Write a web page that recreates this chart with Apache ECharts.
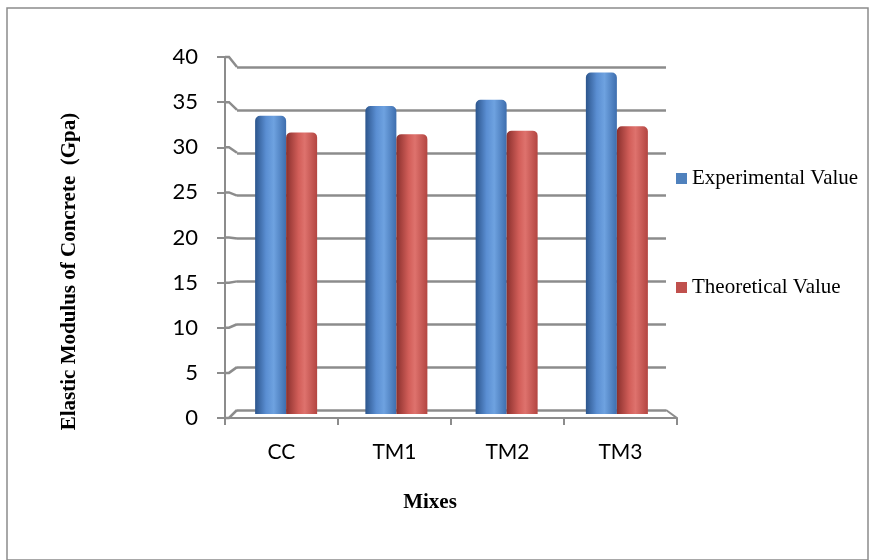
<!DOCTYPE html>
<html><head><meta charset="utf-8">
<script src="https://cdn.jsdelivr.net/npm/echarts@6/dist/echarts.min.js"></script>
<style>html,body{margin:0;padding:0;background:#fff}#c{width:878px;height:560px}</style>
</head><body><div id="c"></div>
<script>
const categories = ['CC', 'TM1', 'TM2', 'TM3'];
const experimental = [33.9, 35.0, 35.7, 38.8];
const theoretical = [32.0, 31.8, 32.2, 32.7];
const yTicks = { min: 0, max: 40, interval: 5 };
const seriesNames = ['Experimental Value', 'Theoretical Value'];

const chart = echarts.init(document.getElementById('c'), null, { renderer: 'canvas' });
const gridColor = '#8c8c8c';
const blueGrad = new echarts.graphic.LinearGradient(0, 0, 1, 0, [
  { offset: 0, color: '#2c558c' }, { offset: 0.35, color: '#5a8ed2' },
  { offset: 0.6, color: '#6ea2e0' }, { offset: 1, color: '#3e6eae' }]);
const redGrad = new echarts.graphic.LinearGradient(0, 0, 1, 0, [
  { offset: 0, color: '#8a302d' }, { offset: 0.4, color: '#d25e59' },
  { offset: 0.6, color: '#de726d' }, { offset: 1, color: '#b34541' }]);

chart.setOption({
  animation: false,
  legend: {
    orient: 'vertical', left: 671, top: 163, itemGap: 88,
    itemWidth: 11, itemHeight: 11, icon: 'rect', itemStyle: { borderWidth: 0 },
    textStyle: { fontFamily: 'Liberation Serif', fontSize: 21, color: '#000' },
    data: [
      { name: seriesNames[0], itemStyle: { color: '#4f81bd' } },
      { name: seriesNames[1], itemStyle: { color: '#c0504d' } }
    ]
  },
  grid: [
    { left: 225, right: 201, top: 57, bottom: 142 },
    { left: 237, right: 212, top: 67, bottom: 150 },
    { left: 231, right: 206, top: 62, bottom: 146 },
    { left: 7, right: 10, top: 8, bottom: -5, show: true, borderColor: '#8c8c8c', borderWidth: 1.5, backgroundColor: 'transparent' }
  ],
  xAxis: [
    { gridIndex: 0, type: 'category', data: categories, boundaryGap: true,
      name: 'Mixes', nameLocation: 'middle', nameGap: 74,
      nameTextStyle: { fontFamily: 'Liberation Serif', fontWeight: 'bold', fontSize: 21, color: '#000', padding: [0, 42, 0, 0] },
      axisLine: { lineStyle: { color: gridColor, width: 2 } },
      axisTick: { show: true, length: 7, inside: false, lineStyle: { color: gridColor, width: 2 } },
      axisLabel: { fontFamily: 'Lato', fontSize: 21, color: '#000', margin: 24 } },
    { gridIndex: 1, type: 'category', data: categories, show: false },
    { gridIndex: 2, type: 'category', data: categories, show: false },
    { gridIndex: 3, type: 'category', data: categories, show: false }
  ],
  yAxis: [
    { gridIndex: 0, type: 'value', min: yTicks.min, max: yTicks.max, interval: yTicks.interval,
      name: 'Elastic Modulus of Concrete  (Gpa)', nameLocation: 'middle', nameGap: 145, nameRotate: 90,
      nameTextStyle: { fontFamily: 'Liberation Serif', fontWeight: 'bold', fontSize: 21, color: '#000', padding: [0, 68, 0, 0] },
      axisLine: { show: true, lineStyle: { color: gridColor, width: 2 } },
      axisTick: { show: true, length: 8, lineStyle: { color: gridColor, width: 2 } },
      splitLine: { show: false },
      axisLabel: { fontFamily: 'Lato', fontSize: 22, color: '#000', margin: 27 } },
    { gridIndex: 1, type: 'value', min: yTicks.min, max: yTicks.max, interval: yTicks.interval,
      axisLine: { show: false }, axisTick: { show: false }, axisLabel: { show: false },
      splitLine: { show: true, lineStyle: { color: gridColor, width: 2.5 } } },
    { gridIndex: 2, type: 'value', min: yTicks.min, max: yTicks.max, show: false, splitLine: { show: false } },
    { gridIndex: 3, type: 'value', show: false, splitLine: { show: false } }
  ],
  series: [
    { name: seriesNames[0], type: 'bar', xAxisIndex: 2, yAxisIndex: 2, data: experimental,
      barWidth: 31, barGap: '0%', itemStyle: { color: blueGrad, borderRadius: [5, 5, 0, 0] } },
    { name: seriesNames[1], type: 'bar', xAxisIndex: 2, yAxisIndex: 2, data: theoretical,
      barWidth: 31, barGap: '0%', itemStyle: { color: redGrad, borderRadius: [5, 5, 0, 0] } }
  ]
});

// perspective stubs linking the front axis ticks to the back-wall gridlines, derived from the axes
(function () {
  const model = chart.getModel();
  const front = model.getComponent('grid', 0).coordinateSystem.getRect();
  const back = model.getComponent('grid', 1).coordinateSystem.getRect();
  const els = [];
  for (let v = yTicks.min; v <= yTicks.max; v += yTicks.interval) {
    const yf = chart.convertToPixel({ yAxisIndex: 0 }, v);
    const yb = chart.convertToPixel({ yAxisIndex: 1 }, v);
    els.push({ type: 'polyline', silent: true,
      shape: { points: [[front.x, yf], [front.x + 4, yf], [back.x, yb]] },
      style: { stroke: gridColor, lineWidth: 2.5, fill: null } });
  }
  const yf0 = chart.convertToPixel({ yAxisIndex: 0 }, yTicks.min);
  const yb0 = chart.convertToPixel({ yAxisIndex: 1 }, yTicks.min);
  els.push({ type: 'line', silent: true,
    shape: { x1: front.x + front.width, y1: yf0, x2: back.x + back.width, y2: yb0 },
    style: { stroke: gridColor, lineWidth: 2 } });
  chart.setOption({ graphic: els });
})();
</script></body></html>
